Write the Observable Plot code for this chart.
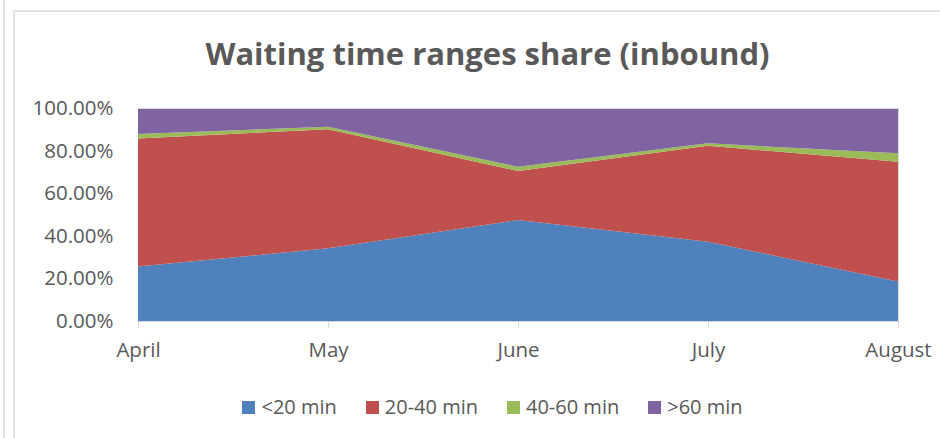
<!DOCTYPE html>
<html><head><meta charset="utf-8">
<script src="https://cdn.jsdelivr.net/npm/d3@7"></script>
<script src="https://cdn.jsdelivr.net/npm/@observablehq/plot@0.6"></script>
<style>
body{margin:0;background:#fff;}
#wrap{position:relative;width:940px;height:438px;overflow:hidden;font-family:"Open Sans",sans-serif;color:#595959;background:#fff;}
#lineA{position:absolute;left:3px;top:0;width:2px;height:438px;background:#e3e3e3;}
#frame{position:absolute;left:13px;top:10px;width:1000px;height:1000px;border-left:2px solid #e3e3e3;border-top:2px solid #e3e3e3;}
#title{position:absolute;left:0;top:33px;width:975px;text-align:center;font-size:31px;font-weight:bold;color:#595959;line-height:40px;z-index:2;}
#chart{position:absolute;left:0;top:80px;}
#legend{position:absolute;left:0;top:393px;width:985px;display:flex;justify-content:center;gap:29px;font-size:20px;line-height:28px;color:#595959;}
.item{display:flex;align-items:center;gap:6px;}
.sw{width:13px;height:13px;display:inline-block;}
</style></head><body>
<div id="wrap">
 <div id="lineA"></div>
 <div id="frame"></div>
 <div id="chart"></div>
 <div id="title">Waiting time ranges share (inbound)</div>
 <div id="legend"></div>
</div>
<script>
const months = ["April", "May", "June", "July", "August"];
const categories = ["<20 min", "20-40 min", "40-60 min", ">60 min"];
const colors = ["#4F81BD", "#C0504D", "#9BBB59", "#8064A2"];
const under20 = [25.6, 34.1, 47.4, 37.2, 18.5];
const from20to40 = [60.1, 55.9, 23.0, 45.1, 56.3];
const from40to60 = [2.1, 1.2, 2.0, 1.1, 3.9];
const over60 = [12.2, 8.8, 27.6, 16.6, 21.3];
const yTicks = [0, 0.2, 0.4, 0.6, 0.8, 1.0];

const seriesValues = [under20, from20to40, from40to60, over60];
const rows = [];
categories.forEach((c, i) => months.forEach((m, j) => rows.push({month: m, cat: c, value: seriesValues[i][j] / 100})));

const chart = Plot.plot({
  width: 940,
  height: 305,
  marginTop: 28,
  marginBottom: 64,
  marginLeft: 137,
  marginRight: 42,
  style: {fontFamily: '"Open Sans", sans-serif', fontSize: "20.5px", color: "#595959", background: "transparent", overflow: "visible"},
  x: {type: "point", domain: months, padding: 0, label: null},
  y: {domain: [0, 1], label: null},
  color: {domain: categories, range: colors},
  marks: [
    Plot.areaY(rows, {x: "month", y: "value", fill: "cat", z: "cat", order: categories}),
    Plot.ruleY([1], {stroke: "#d9d9d9"}),
    Plot.ruleY([0], {stroke: "#d9d9d9"}),
    Plot.ruleX(["August"], {stroke: "#d9d9d9", y1: 0, y2: 1}),
    Plot.axisY({ticks: yTicks, tickFormat: d => (d * 100).toFixed(2) + "%", tickSize: 0, tickPadding: 24, fill: "#595959", label: null}),
    Plot.axisX({tickSize: 7, tickPadding: 14, stroke: "#d9d9d9", fill: "#595959", label: null})
  ]
});
document.getElementById("chart").appendChild(chart);

const legend = document.getElementById("legend");
categories.forEach((c, i) => {
  const it = document.createElement("div");
  it.className = "item";
  const sw = document.createElement("span");
  sw.className = "sw";
  sw.style.background = colors[i];
  const t = document.createElement("span");
  t.textContent = c;
  it.appendChild(sw); it.appendChild(t);
  legend.appendChild(it);
});
</script>
</body></html>
